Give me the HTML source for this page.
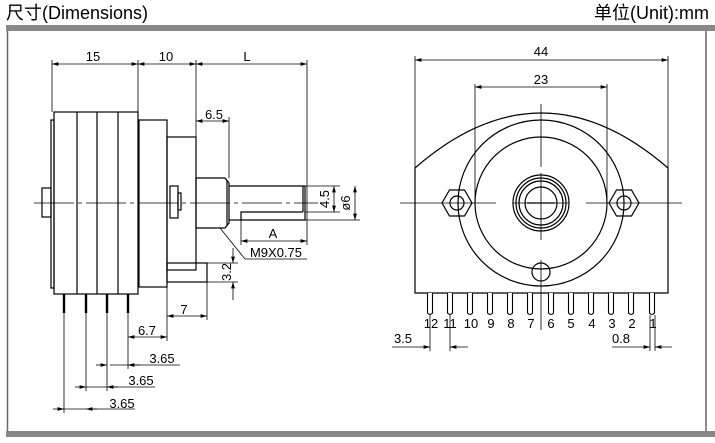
<!DOCTYPE html>
<html><head><meta charset="utf-8"><style>
body{margin:0;background:#fff;}
svg{display:block;font-family:"Liberation Sans","Noto Sans CJK SC",sans-serif;}
</style></head><body>
<svg width="715" height="443" viewBox="0 0 715 443" xmlns="http://www.w3.org/2000/svg">
<rect x="0" y="0" width="715" height="443" fill="#fff"/>
<text x="6" y="19" font-size="18" fill="#000">尺寸(Dimensions)</text>
<text x="709" y="19" font-size="18" fill="#000" text-anchor="end">单位(Unit):mm</text>
<rect x="6" y="25" width="709" height="6" fill="#888"/>
<rect x="6" y="431" width="709" height="6" fill="#888"/>
<line x1="7.5" y1="31" x2="7.5" y2="431" stroke="#666" stroke-width="1.5"/>
<line x1="706" y1="31" x2="706" y2="431" stroke="#666" stroke-width="1.5"/>
<defs><marker id="a" viewBox="0 0 10 6" refX="10" refY="3" markerWidth="8" markerHeight="5" orient="auto-start-reverse"><path d="M0 0L10 3L0 6z" fill="#000"/></marker></defs>
<g stroke="#000" fill="none" stroke-width="1.2">
<rect x="51" y="120" width="3" height="168"/>
<rect x="54" y="112" width="84" height="182"/>
<line x1="77" y1="112" x2="77" y2="294"/><line x1="97" y1="112" x2="97" y2="294"/><line x1="118" y1="112" x2="118" y2="294"/>
<rect x="139" y="120" width="28" height="167"/>
<rect x="167" y="137" width="29" height="133"/>
<rect x="167" y="263" width="40" height="19"/>
<rect x="42" y="188" width="9" height="29"/>
<rect x="170" y="186" width="8" height="32"/><rect x="178" y="193" width="3" height="17"/>
<path d="M196 178H225L229 183V223L225 228H196Z"/>
<line x1="227" y1="180" x2="227" y2="226"/>
<path d="M229 186H305V220H241V212H303"/><line x1="303" y1="186" x2="303" y2="212"/>
<line x1="229" y1="220" x2="241" y2="220"/>
<g stroke-width="2.4"><line x1="64" y1="294" x2="64" y2="313"/><line x1="86" y1="294" x2="86" y2="313"/><line x1="107" y1="294" x2="107" y2="313"/><line x1="128" y1="294" x2="128" y2="313"/></g>
<line x1="34" y1="203" x2="318" y2="203" stroke-width="0.8" stroke-dasharray="40 4 4 4"/>
<g stroke-width="0.8">
<line x1="52" y1="60" x2="52" y2="112"/><line x1="138" y1="60" x2="138" y2="112"/>
<line x1="196" y1="60" x2="196" y2="137"/><line x1="307" y1="60" x2="307" y2="245"/>
<line x1="229" y1="117" x2="229" y2="178"/>
<line x1="305" y1="186" x2="340" y2="186"/><line x1="305" y1="212" x2="340" y2="212"/><line x1="305" y1="220" x2="360" y2="220"/>
<line x1="241" y1="220" x2="241" y2="245"/>
<line x1="207" y1="263" x2="238" y2="263"/><line x1="207" y1="282" x2="238" y2="282"/>
<line x1="207" y1="282" x2="207" y2="320"/><line x1="167" y1="287" x2="167" y2="341"/>
<line x1="128" y1="313" x2="128" y2="369"/><line x1="107" y1="313" x2="107" y2="391"/>
<line x1="86" y1="313" x2="86" y2="391"/><line x1="64" y1="313" x2="64" y2="413"/>
<line x1="52" y1="64" x2="138" y2="64" marker-start="url(#a)" marker-end="url(#a)"/>
<line x1="138" y1="64" x2="196" y2="64" marker-start="url(#a)" marker-end="url(#a)"/>
<line x1="196" y1="64" x2="307" y2="64" marker-start="url(#a)" marker-end="url(#a)"/>
<line x1="196" y1="121" x2="229" y2="121" marker-start="url(#a)" marker-end="url(#a)"/>
<line x1="334" y1="186" x2="334" y2="212" marker-start="url(#a)" marker-end="url(#a)"/>
<line x1="355" y1="186" x2="355" y2="220" marker-start="url(#a)" marker-end="url(#a)"/>
<line x1="241" y1="241" x2="307" y2="241" marker-start="url(#a)" marker-end="url(#a)"/>
<path d="M220 228L245 259H307" />
<line x1="233" y1="248" x2="233" y2="263" marker-end="url(#a)"/><line x1="233" y1="300" x2="233" y2="282" marker-end="url(#a)"/>
<line x1="167" y1="316" x2="207" y2="316" marker-start="url(#a)" marker-end="url(#a)"/>
<line x1="128" y1="337" x2="167" y2="337" marker-start="url(#a)" marker-end="url(#a)"/>
<line x1="110" y1="365" x2="180" y2="365"/><line x1="96" y1="365" x2="107" y2="365" marker-end="url(#a)"/><line x1="140" y1="365" x2="128" y2="365" marker-end="url(#a)"/>
<line x1="86" y1="387" x2="155" y2="387"/><line x1="75" y1="387" x2="86" y2="387" marker-end="url(#a)"/><line x1="118" y1="387" x2="107" y2="387" marker-end="url(#a)"/>
<line x1="64" y1="409" x2="135" y2="409"/><line x1="53" y1="409" x2="64" y2="409" marker-end="url(#a)"/><line x1="97" y1="409" x2="86" y2="409" marker-end="url(#a)"/>
</g>
<path d="M415 293V168Q541 58 668 168V293Z" fill="none"/>
<line x1="415" y1="168" x2="415" y2="56" stroke-width="0.8"/><line x1="668" y1="168" x2="668" y2="56" stroke-width="0.8"/>
<circle cx="541" cy="203" r="83"/><circle cx="541" cy="203" r="66"/>
<circle cx="541" cy="203" r="28"/><circle cx="541" cy="203" r="25"/><circle cx="541" cy="203" r="22"/><circle cx="541" cy="203" r="16"/>
<line x1="527" y1="203" x2="555" y2="203"/>
<polygon points="442,203 449.5,190 464.5,190 472,203 464.5,216 449.5,216"/><circle cx="457" cy="203" r="7"/>
<polygon points="609,203 616.5,190 631.5,190 639,203 631.5,216 616.5,216"/><circle cx="624" cy="203" r="7"/>
<circle cx="541" cy="272" r="9"/>
<g stroke-width="0.8">
<line x1="475" y1="84" x2="475" y2="205"/><line x1="607" y1="84" x2="607" y2="205"/>
<line x1="400" y1="203" x2="496" y2="203"/><line x1="513" y1="203" x2="569" y2="203"/><line x1="586" y1="203" x2="682" y2="203"/>
<line x1="541" y1="104" x2="541" y2="167"/><line x1="541" y1="173" x2="541" y2="240"/><line x1="541" y1="260" x2="541" y2="330"/>
<line x1="415" y1="60" x2="668" y2="60" marker-start="url(#a)" marker-end="url(#a)"/>
<line x1="475" y1="87" x2="607" y2="87" marker-start="url(#a)" marker-end="url(#a)"/>
<line x1="430" y1="315" x2="430" y2="351"/><line x1="450" y1="315" x2="450" y2="351"/>
<line x1="392" y1="347" x2="430" y2="347" marker-end="url(#a)"/><line x1="468" y1="347" x2="450" y2="347" marker-end="url(#a)"/>
<line x1="650" y1="315" x2="650" y2="351"/><line x1="655" y1="315" x2="655" y2="351"/>
<line x1="612" y1="347" x2="650" y2="347" marker-end="url(#a)"/><line x1="672" y1="347" x2="655" y2="347" marker-end="url(#a)"/>
</g>
</g>
<g stroke="#000" fill="#fff" stroke-width="1.1">
<path d="M427.5 293V313Q430 316 432.5 313V293"/><path d="M447.5 293V313Q450 316 452.5 313V293"/>
<path d="M467.5 293V313Q470 316 472.5 313V293"/><path d="M487.5 293V313Q490 316 492.5 313V293"/>
<path d="M507.5 293V313Q510 316 512.5 313V293"/><path d="M527.5 293V313Q530 316 532.5 313V293"/>
<path d="M548.5 293V313Q551 316 553.5 313V293"/><path d="M568.5 293V313Q571 316 573.5 313V293"/>
<path d="M588.5 293V313Q591 316 593.5 313V293"/><path d="M608.5 293V313Q611 316 613.5 313V293"/>
<path d="M628.5 293V313Q631 316 633.5 313V293"/><path d="M649.5 293V313Q652 316 654.5 313V293"/>
</g>
<g font-size="13" fill="#000" text-anchor="middle">
<text x="93" y="61">15</text><text x="166" y="61">10</text><text x="247" y="61">L</text>
<text x="214" y="119">6.5</text><text x="273" y="238">A</text>
<text x="276" y="257">M9X0.75</text>
<text x="184" y="314">7</text><text x="147" y="335">6.7</text>
<text x="162" y="363">3.65</text><text x="141" y="385">3.65</text><text x="122" y="408">3.65</text>
<text transform="translate(329,199) rotate(-90)">4.5</text>
<text transform="translate(350,203) rotate(-90)">ø6</text>
<text transform="translate(231,272) rotate(-90)">3.2</text>
<text x="541" y="56">44</text><text x="541" y="84">23</text>
<text x="403" y="343">3.5</text><text x="621" y="343">0.8</text>
<text x="431" y="328">12</text><text x="450" y="328">11</text><text x="471" y="328">10</text><text x="491" y="328">9</text>
<text x="511" y="328">8</text><text x="531" y="328">7</text><text x="551" y="328">6</text><text x="571" y="328">5</text>
<text x="592" y="328">4</text><text x="612" y="328">3</text><text x="632" y="328">2</text><text x="653" y="328">1</text>
</g>
</svg>
</body></html>
